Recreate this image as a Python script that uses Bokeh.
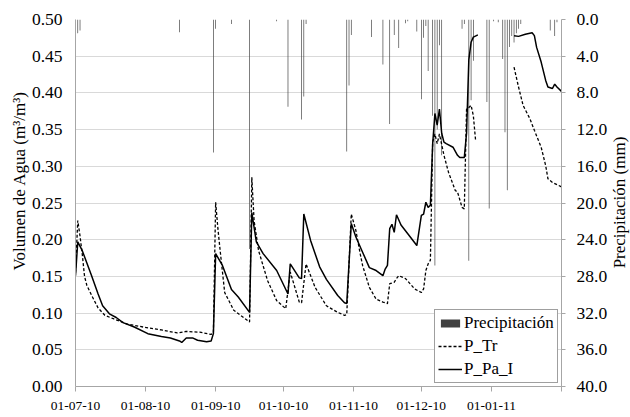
import math
from bokeh.plotting import figure
from bokeh.models import Range1d, LinearAxis, NumeralTickFormatter, Label, Title
from bokeh.embed import file_html
from bokeh.resources import INLINE

nan = float("nan")

# x = days since 01-07-2010
precip_day = [0, 1, 2, 46, 61, 62, 69, 77, 89, 94, 100, 101, 102, 120, 121, 122,
              131, 136, 139, 141, 143, 146, 147, 151, 153, 154, 155, 156, 158, 159,
              160, 161, 162, 171, 172, 174, 175, 176, 182, 183, 185, 187, 189, 190,
              191, 192, 193, 194, 195, 196, 197, 210, 212, 213]
precip_mm = [10.4, 1.5, 1.2, 1.4, 14.5, 1.0, 0.5, 25.0, 0.2, 9.5, 10.9, 8.4, 0.5, 14.4, 7.2, 1.7,
             1.9, 4.9, 11.4, 1.7, 3.1, 0.4, 0.2, 1.3, 8.7, 2.0, 0.7, 5.6, 10.5, 26.8,
             12.0, 2.8, 14.8, 1.0, 0.5, 26.3, 8.8, 4.5, 9.0, 20.6, 0.2, 0.3, 4.3, 12.3,
             18.6, 3.0, 1.8, 2.5, 1.5, 1.0, 0.5, 1.2, 1.8, 0.3]

tr_day = [0, 1, 2, 3, 4, 5, 7, 10, 13, 17, 23, 30, 38, 45, 49, 55, 60, 61, 62, 63, 64, 66,
          70, 73, 77, 78, 79, 81, 85, 89, 93, 95, 99, 100, 102, 106, 111, 116, 119, 120,
          122, 124, 126, 127, 130, 133, 136, 138, 139, 141, 142, 143, 146, 150, 153, 154,
          155, 156, 157, 158, 159, 160, 161, 163, 165, 168, 169, 171, 172, 173, 174, 175,
          176, 177, 185, 194, 196, 198, 201, 203, 206, 208, 209, 211, 213, 215]
tr_val = [0.155, 0.226, 0.205, 0.180, 0.150, 0.138, 0.125, 0.107, 0.097, 0.092, 0.085,
          0.081, 0.077, 0.073, 0.075, 0.074, 0.071, 0.073, 0.251, 0.215, 0.185, 0.128,
          0.104, 0.097, 0.088, 0.285, 0.226, 0.185, 0.144, 0.117, 0.106, 0.156, 0.115,
          0.114, 0.167, 0.135, 0.110, 0.101, 0.097, 0.098, 0.235, 0.213, 0.180, 0.165,
          0.135, 0.119, 0.115, 0.113, 0.140, 0.142, 0.147, 0.151, 0.147, 0.133, 0.128,
          0.133, 0.158, 0.167, 0.172, 0.333, 0.344, 0.331, 0.344, 0.315, 0.292, 0.267,
          0.265, 0.244, 0.242, 0.378, 0.380, 0.383, 0.369, 0.335, nan, 0.435, 0.408,
          0.383, 0.365, 0.349, 0.326, 0.301, 0.283, 0.278, 0.275, 0.272]

pa_day = [0, 1, 3, 7, 10, 12, 15, 18, 21, 26, 32, 38, 42, 46, 47, 49, 52, 54, 58, 60, 61,
          62, 65, 69, 72, 77, 78, 80, 83, 89, 94, 95, 99, 100, 101, 104, 108, 111, 116,
          119, 120, 122, 124, 127, 130, 133, 136, 137, 138, 139, 140, 141, 142, 144, 147,
          151, 153, 154, 155, 156, 157, 158, 159, 160, 161, 162, 163, 164, 167, 169, 170,
          172, 173, 174, 175, 176, 178, 185, 194, 196, 199, 202, 203, 204, 206, 208, 209,
          211, 212, 213, 215]
pa_val = [0.151, 0.197, 0.185, 0.152, 0.126, 0.110, 0.099, 0.094, 0.087, 0.081, 0.072,
          0.068, 0.066, 0.062, 0.060, 0.066, 0.066, 0.063, 0.061, 0.062, 0.072, 0.181,
          0.165, 0.132, 0.122, 0.101, 0.237, 0.197, 0.181, 0.158, 0.126, 0.167, 0.148,
          0.147, 0.235, 0.199, 0.163, 0.146, 0.124, 0.114, 0.113, 0.222, 0.204, 0.183,
          0.162, 0.158, 0.151, 0.160, 0.165, 0.215, 0.221, 0.210, 0.234, 0.220, 0.208,
          0.192, 0.233, 0.235, 0.251, 0.244, 0.247, 0.330, 0.372, 0.356, 0.378, 0.345,
          0.333, 0.331, 0.326, 0.315, 0.312, 0.312, 0.345, 0.445, 0.469, 0.476, 0.479,
          nan, 0.478, 0.477, 0.480, 0.482, 0.478, 0.462, 0.442, 0.417, 0.408, 0.406,
          0.412, 0.408, 0.402]

x_tick_days = [0, 31, 62, 92, 123, 153, 184, 215]
x_tick_labels = ["01-07-10", "01-08-10", "01-09-10", "01-10-10", "01-11-10",
                 "01-12-10", "01-01-11", ""]
y_ticks = [0.0, 0.05, 0.10, 0.15, 0.20, 0.25, 0.30, 0.35, 0.40, 0.45, 0.50]
y2_ticks = [0, 4, 8, 12, 16, 20, 24, 28, 32, 36, 40]

FONT = "Liberation Serif"
AXIS_GRAY = "#a6a6a6"

p = figure(width=630, height=417, output_backend="svg", toolbar_location=None,
           x_range=Range1d(0, 215), y_range=Range1d(0, 0.5),
           min_border_left=75, min_border_right=69, min_border_top=19,
           min_border_bottom=31)
p.outline_line_color = None
p.background_fill_color = "white"
p.border_fill_color = "white"
p.extra_y_ranges = {"pp": Range1d(40, 0)}

p.xgrid.visible = False
p.ygrid.grid_line_color = "#d9d9d9"
p.ygrid.grid_line_width = 1

# bottom axis
xa = p.xaxis[0]
xa.ticker = x_tick_days
xa.major_label_overrides = dict(zip(x_tick_days, x_tick_labels))
xa.major_tick_out = 5
xa.major_tick_in = 0
xa.minor_tick_line_color = None
xa.axis_line_color = AXIS_GRAY
xa.major_tick_line_color = AXIS_GRAY
xa.major_label_text_font = FONT
xa.major_label_text_font_size = "13.5px"
xa.major_label_text_color = "black"
xa.major_label_standoff = 10

# left axis
ya = p.yaxis[0]
ya.ticker = y_ticks
ya.formatter = NumeralTickFormatter(format="0.00")
ya.major_tick_out = 0
ya.major_tick_in = 0
ya.minor_tick_line_color = None
ya.axis_line_color = AXIS_GRAY
ya.major_label_text_font = FONT
ya.major_label_text_font_size = "17.5px"
ya.major_label_text_color = "black"
ya.major_label_standoff = 13

# right axis
ra = LinearAxis(y_range_name="pp", ticker=y2_ticks,
                formatter=NumeralTickFormatter(format="0.0"))
ra.major_tick_out = 4
ra.major_tick_in = 0
ra.minor_tick_line_color = None
ra.axis_line_color = AXIS_GRAY
ra.major_tick_line_color = AXIS_GRAY
ra.major_label_text_font = FONT
ra.major_label_text_font_size = "17.5px"
ra.major_label_text_color = "black"
ra.major_label_standoff = 11
p.add_layout(ra, "right")

# left axis title
p.add_layout(Title(text="Volumen de Agua (m³/m³)", align="left", offset=116,
                   standoff=0, text_font=FONT, text_font_size="17px",
                   text_font_style="normal", text_color="black"), "left")
# right axis title (reads bottom to top, as in the reference)
p.add_layout(Label(x=9, y=184, x_units="screen", y_units="screen",
                   text="Precipitación (mm)", angle=math.pi / 2,
                   text_align="center", text_baseline="middle",
                   text_font=FONT, text_font_size="17px", text_color="black"), "right")

p.vbar(x=precip_day, top=precip_mm, bottom=0, width=0.3, y_range_name="pp",
       fill_color="#404040", line_color=None, legend_label="Precipitación")
p.line(tr_day, tr_val, line_color="black", line_width=1.3, line_dash="3 2",
       legend_label="P_Tr")
p.line(pa_day, pa_val, line_color="black", line_width=1.5, legend_label="P_Pa_I")

lg = p.legend[0]
lg.location = (359, 3)
lg.border_line_color = "#404040"
lg.border_line_width = 1
lg.background_fill_color = "white"
lg.background_fill_alpha = 1
lg.label_text_font = FONT
lg.label_text_font_size = "17px"
lg.label_text_color = "black"
lg.glyph_width = 24
lg.glyph_height = 10
lg.label_height = 20
lg.spacing = 3
lg.padding = 3
lg.margin = 0
lg.label_standoff = 2

open("out.html", "w").write(file_html(p, INLINE))
